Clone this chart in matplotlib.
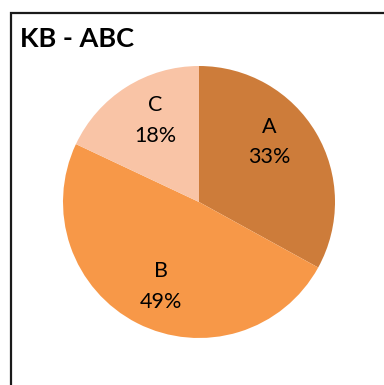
import numpy as np
import matplotlib
matplotlib.use("Agg")
import matplotlib.pyplot as plt
from matplotlib.patches import Rectangle

title = "KB - ABC"
categories = ["A", "B", "C"]
values = [33, 49, 18]
colors = ["#CD7C3A", "#F79848", "#F9C4A6"]
label_shift_deg = [10, 3, -4]

plt.rcParams['font.family'] = ['Lato', 'DejaVu Sans']

fig = plt.figure(figsize=(3.84, 3.85), dpi=100)
fig.patch.set_facecolor("white")

# outer chart frame (extends beyond the image on right/bottom)
fig.add_artist(Rectangle((10.5 / 384, -0.1), 1.2, (1 - 13.5 / 385) + 0.1,
                         transform=fig.transFigure, fill=False,
                         edgecolor="#1a1a1a", linewidth=1.6))

fig.text(20 / 384, 1 - 47 / 385, title, fontsize=19.5, fontweight="bold",
         ha="left", va="baseline", color="black")

ax = fig.add_axes([63 / 384, 47 / 385, 272 / 384, 272 / 385])
wedges, _ = ax.pie(values, colors=colors, startangle=90, counterclock=False,
                   wedgeprops=dict(linewidth=0))
ax.set_xlim(-1, 1)
ax.set_ylim(-1, 1)
ax.set_aspect("equal")

total = sum(values)
for w, cat, v, sh in zip(wedges, categories, values, label_shift_deg):
    ang = np.deg2rad((w.theta1 + w.theta2) / 2 + sh)
    r = 0.68
    ax.text(r * np.cos(ang), r * np.sin(ang), f"{cat}\n{round(100 * v / total)}%",
            ha="center", va="center", fontsize=15.5, color="black",
            linespacing=1.65)

fig.savefig("out.png", dpi=100)
